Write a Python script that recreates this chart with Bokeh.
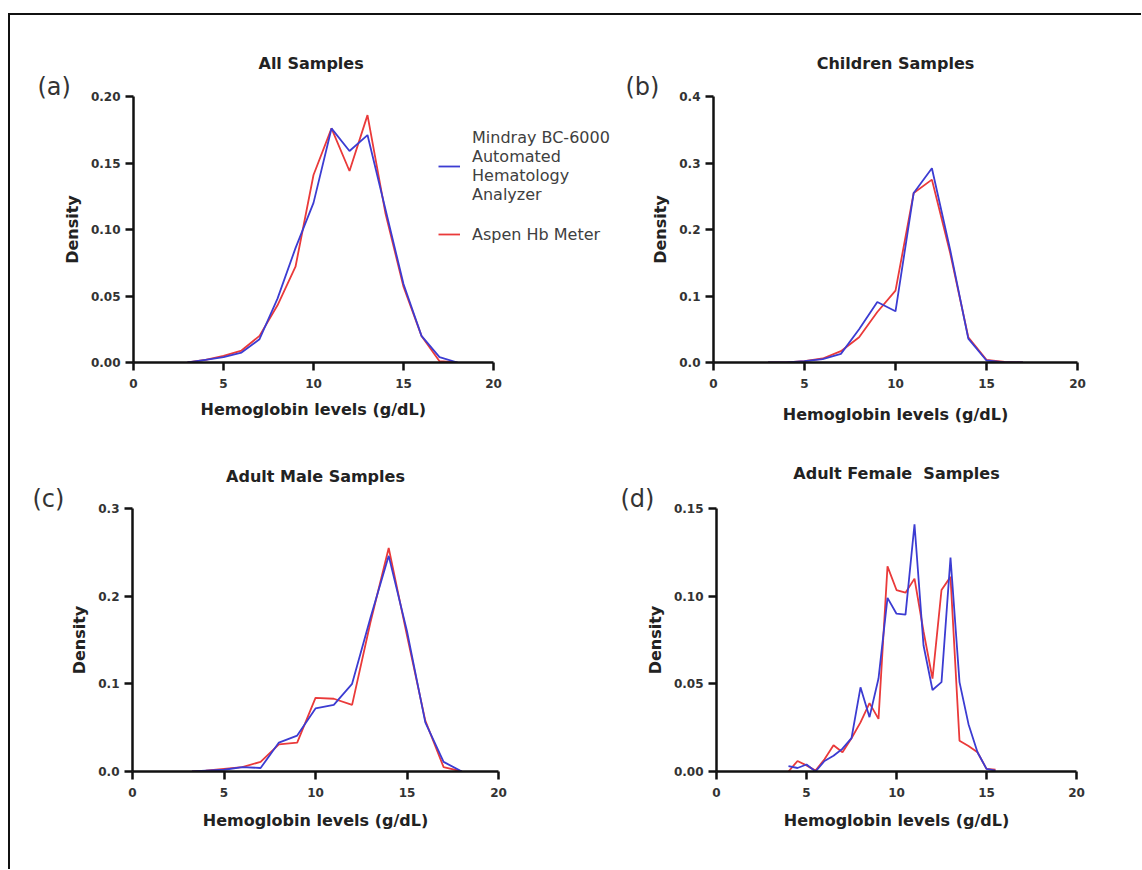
from bokeh.plotting import figure
from bokeh.models import Legend, LegendItem, NumeralTickFormatter, FixedTicker, Range1d, Title
from bokeh.layouts import row, column
from bokeh.embed import file_html
from bokeh.resources import INLINE

# ---------------- data ----------------
x_ticks = [0, 5, 10, 15, 20]

a_x = [3, 4, 5, 6, 7, 8, 9, 10, 11, 12, 13, 14, 15, 16, 17, 18]
a_mindray = [0, 0.002, 0.004, 0.0075, 0.0175, 0.048, 0.086, 0.12, 0.176, 0.159, 0.171, 0.115, 0.059, 0.02, 0.004, 0]
a_aspen = [0, 0.002, 0.005, 0.009, 0.02, 0.043, 0.072, 0.141, 0.176, 0.144, 0.186, 0.112, 0.057, 0.02, 0.001, 0]

b_x = [3, 4, 5, 6, 7, 8, 9, 10, 11, 12, 13, 14, 15, 16, 17]
b_mindray = [0, 0, 0.002, 0.005, 0.013, 0.05, 0.091, 0.077, 0.255, 0.292, 0.17, 0.036, 0.003, 0, 0]
b_aspen = [0, 0, 0.002, 0.006, 0.017, 0.038, 0.076, 0.108, 0.255, 0.275, 0.165, 0.038, 0.004, 0.001, 0]

c_x = [3.25, 4, 5, 6, 7, 8, 9, 10, 11, 12, 13, 14, 15, 16, 17, 18]
c_mindray = [0, 0.001, 0.002, 0.005, 0.004, 0.033, 0.041, 0.072, 0.076, 0.1, 0.175, 0.246, 0.16, 0.056, 0.011, 0]
c_aspen = [0, 0.001, 0.003, 0.005, 0.011, 0.031, 0.033, 0.084, 0.083, 0.076, 0.17, 0.255, 0.155, 0.058, 0.005, 0]

d_x = [4.0, 4.5, 5.0, 5.5, 6.0, 6.5, 7.0, 7.5, 8.0, 8.5, 9.0, 9.5, 10.0, 10.5,
       11.0, 11.5, 12.0, 12.5, 13.0, 13.5, 14.0, 14.5, 15.0, 15.5]
d_mindray = [0.003, 0.002, 0.004, 0.0, 0.006, 0.009, 0.013, 0.019, 0.048, 0.031, 0.053, 0.099,
             0.09, 0.0895, 0.141, 0.072, 0.0465, 0.051, 0.122, 0.051, 0.027, 0.011, 0.0015, 0.0005]
d_aspen = [0.0, 0.006, 0.0035, 0.0005, 0.007, 0.015, 0.011, 0.019, 0.028, 0.039, 0.03, 0.117,
           0.1035, 0.102, 0.11, 0.08, 0.053, 0.1035, 0.111, 0.0175, 0.0145, 0.011, 0.0015, 0.001]

series_names = ["Mindray BC-6000\nAutomated\nHematology\nAnalyzer", "Aspen Hb Meter"]
x_label = "Hemoglobin levels (g/dL)"
y_label = "Density"

BLUE = "#3c3cd2"
RED = "#ea3a3a"
FONT = "DejaVu Sans"


def make_panel(title, letter, xs, y_m, y_a, ymax, yticks, fmt,
               origin, size, frame, letter_left, title_standoff, xlabel_standoff,
               extend_right=False, title_left=None, xlabel_left=None):
    ox, oy = origin
    W, H = size
    fl, ft, fr, fb = frame  # axis box edges in page pixels
    fw = fr - fl
    fr_ext = ox + W if extend_right else fr
    xmax = 20 * (fr_ext - fl) / fw
    p = figure(width=W, height=H, x_range=Range1d(0, xmax), y_range=Range1d(0, ymax),
               output_backend="svg", toolbar_location=None,
               min_border_left=fl - ox, min_border_right=ox + W - fr_ext,
               min_border_top=ft - oy, min_border_bottom=oy + H - fb)
    p.outline_line_color = None
    p.grid.visible = False
    p.background_fill_color = "white"
    p.border_fill_color = "white"

    for ax in (p.xaxis[0], p.yaxis[0]):
        ax.axis_line_width = 2.5
        ax.axis_line_color = "#111111"
        ax.major_tick_line_width = 2.5
        ax.major_tick_line_color = "#111111"
        ax.major_tick_in = 0
        ax.major_tick_out = 8
        ax.minor_tick_line_color = None
        ax.major_label_text_font = FONT
        ax.major_label_text_font_style = "bold"
        ax.major_label_text_font_size = "12px"
        ax.major_label_text_color = "#333333"
        ax.axis_label_text_font = FONT
        ax.axis_label_text_font_style = "bold"
        ax.axis_label_text_font_size = "16px"
        ax.axis_label_text_color = "#222222"
    p.xaxis.bounds = (0, 20)
    p.xaxis.ticker = FixedTicker(ticks=x_ticks)
    p.yaxis.ticker = FixedTicker(ticks=yticks)
    p.yaxis.formatter = NumeralTickFormatter(format=fmt)
    p.xaxis.major_label_standoff = 8
    p.yaxis.major_label_standoff = 5
    p.yaxis.axis_label = y_label
    p.yaxis.axis_label_standoff = 6
    p.xaxis.axis_label_standoff = xlabel_standoff
    if xlabel_left is None:
        p.xaxis.axis_label = x_label
    else:
        p.add_layout(Title(text=x_label, align="left", offset=xlabel_left - fl,
                           text_font=FONT, text_font_style="bold", text_font_size="16px",
                           text_color="#222222", standoff=xlabel_standoff), "below")

    rr = p.line(xs, y_a, line_color=RED, line_width=1.8)
    rb = p.line(xs, y_m, line_color=BLUE, line_width=1.8)

    p.title.text = title
    if title_left is None:
        p.title.align = "center"
    else:
        p.title.align = "left"
        p.title.offset = title_left - fl
    p.title.text_font = FONT
    p.title.text_font_style = "bold"
    p.title.text_font_size = "16px"
    p.title.text_color = "#222222"
    p.title.standoff = title_standoff
    p.add_layout(Title(text=letter, align="left", offset=letter_left - fl,
                       text_font=FONT, text_font_style="normal", text_font_size="24px",
                       text_color="#333333", standoff=-8), "above")
    return p, rb, rr


pa, a_rb, a_rr = make_panel("All Samples", "(a)", a_x, a_mindray, a_aspen, 0.2,
                            [0, 0.05, 0.10, 0.15, 0.20], "0.00",
                            (10, 15), (610, 430), (133, 95, 493, 362), 37, 4, 14,
                            extend_right=True, title_left=258, xlabel_left=200)
pb, _, _ = make_panel("Children Samples", "(b)", b_x, b_mindray, b_aspen, 0.4,
                      [0, 0.1, 0.2, 0.3, 0.4], "0.0",
                      (620, 15), (521, 430), (713, 96, 1077, 364), 625, 4, 14)
pc, _, _ = make_panel("Adult Male Samples", "(c)", c_x, c_mindray, c_aspen, 0.3,
                      [0, 0.1, 0.2, 0.3], "0.0",
                      (10, 445), (610, 424), (132, 508, 498, 773), 32, 2, 11)
pd_, _, _ = make_panel("Adult Female\u00a0 Samples", "(d)", d_x, d_mindray, d_aspen, 0.15,
                       [0, 0.05, 0.10, 0.15], "0.00",
                       (620, 445), (521, 424), (716, 504, 1076, 771), 620, 7, 11)

legend = Legend(items=[LegendItem(label=series_names[0], renderers=[a_rb]),
                       LegendItem(label=series_names[1], renderers=[a_rr])],
                location=(305, 118), border_line_color=None, background_fill_alpha=0,
                label_text_font=FONT, label_text_font_size="16px", label_text_color="#404040",
                glyph_width=22, label_standoff=12, padding=0, margin=0, spacing=20)
pa.add_layout(legend)

layout = column(row(pa, pb), row(pc, pd_), margin=(13, 0, 0, 8),
                styles={"border-top": "2px solid #111111", "border-left": "2px solid #111111"})

open("out.html", "w").write(file_html(layout, INLINE))
